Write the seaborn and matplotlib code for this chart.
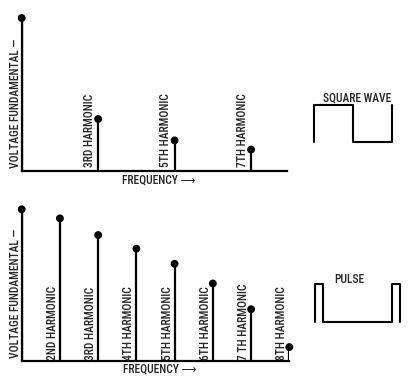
import matplotlib
matplotlib.use('Agg')
import matplotlib.pyplot as plt
import seaborn as sns

# Square wave spectrum: fundamental plus odd harmonics only
square_harmonics = [1, 3, 5, 7]
square_amplitude = [1.0, 0.34, 0.20, 0.14]
square_labels = ['', '3RD HARMONIC', '5TH HARMONIC', '7TH HARMONIC']

# Pulse spectrum: every harmonic, slowly falling off
pulse_harmonics = [1, 2, 3, 4, 5, 6, 7, 8]
pulse_amplitude = [1.0, 0.94, 0.83, 0.74, 0.64, 0.51, 0.34, 0.09]
pulse_labels = ['', '2ND HARMONIC', '3RD HARMONIC', '4TH HARMONIC', '5TH HARMONIC',
                '6TH HARMONIC', '7 TH HARMONIC', '8TH HARMONIC']

# Little waveform sketches (time in periods, level 0/1)
square_wave_t = [0, 0, 0.5, 0.5, 1.0, 1.0]
square_wave_v = [0, 1, 1, 0, 0, 1]
pulse_wave_t = [0, 0, 0.1, 0.1, 1.0, 1.0, 1.1, 1.1]
pulse_wave_v = [0, 1, 1, 0, 0, 1, 1, 0]

W, H = 412, 378
FONT = ['Roboto Condensed', 'DejaVu Sans']
FS = 8.3

sns.set_style('white')
plt.rcParams['font.family'] = FONT
plt.rcParams['font.stretch'] = 'condensed'
plt.rcParams['font.weight'] = 'medium'


def px_axes(fig, left, right, bottom, top):
	# place axes using pixel edges measured from the top-left corner
	return fig.add_axes([left / W, 1 - bottom / H, (right - left) / W, (bottom - top) / H])


def draw_spectrum(ax, freqs, amps, labels, xmax, label_dx, label_dy, ylab_y, flab_y):
	ax.vlines(freqs, 0, amps, color='black', lw=1.6)
	sns.scatterplot(x=freqs, y=amps, ax=ax, color='black', s=32, edgecolor='none',
			clip_on=False, zorder=3, legend=False)
	ax.set_xlim(1, xmax)
	ax.set_ylim(0, 1)
	ax.set_xticks([])
	ax.set_yticks([])
	sns.despine(ax=ax)
	for side in ['left', 'bottom']:
		ax.spines[side].set_linewidth(1.6)
		ax.spines[side].set_color('black')
	for f, lab in zip(freqs, labels):
		if lab:
			ax.annotate(lab, xy=(f, 0), xytext=(label_dx, label_dy), textcoords='offset pixels',
				    rotation=90, ha='center', va='bottom', fontsize=FS)
	ax.text(-0.025, ylab_y, 'VOLTAGE FUNDAMENTAL \u2014', transform=ax.transAxes,
		rotation=90, ha='center', va='bottom', fontsize=FS)
	ax.text(0.515, flab_y, 'FREQUENCY \u27f6', transform=ax.transAxes,
		ha='center', va='center', fontsize=FS)


fig = plt.figure(figsize=(W / 100, H / 100), dpi=100)

ax_top = px_axes(fig, 21.7, 287, 171, 18)
draw_spectrum(ax_top, square_harmonics, square_amplitude, square_labels, 7.94, -9, 4, 0.02, -0.06)

ax_bot = px_axes(fig, 21.7, 289.3, 360.7, 209.3)
draw_spectrum(ax_bot, pulse_harmonics, pulse_amplitude, pulse_labels, 8, -7.5, 1, 0.018, -0.055)

ax_sq = px_axes(fig, 314, 392, 142, 105)
ax_sq.plot(square_wave_t, square_wave_v, color='black', lw=1.5, clip_on=False)
ax_sq.set_xlim(0, 1)
ax_sq.set_ylim(0, 1)
ax_sq.axis('off')
ax_sq.text(0.55, 1.19, 'SQUARE WAVE', transform=ax_sq.transAxes, ha='center', va='center', fontsize=FS)

ax_pu = px_axes(fig, 315, 399.7, 322, 284)
ax_pu.plot(pulse_wave_t, pulse_wave_v, color='black', lw=1.5, clip_on=False)
ax_pu.set_xlim(0, 1.1)
ax_pu.set_ylim(0, 1)
ax_pu.axis('off')
ax_pu.text(0.40, 1.12, 'PULSE', transform=ax_pu.transAxes, ha='center', va='center', fontsize=FS)

fig.savefig('out.png', dpi=100, facecolor='white')
